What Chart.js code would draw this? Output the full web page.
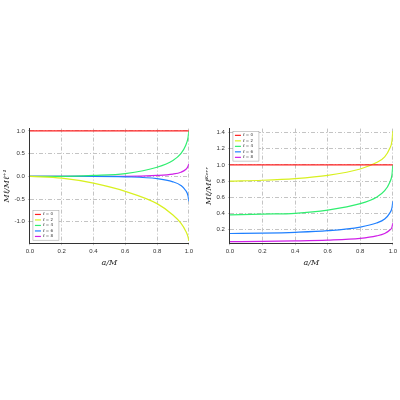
<!DOCTYPE html><html><head><script src="https://cdn.jsdelivr.net/npm/chart.js"></script>
<style>body{margin:0;background:#fff}.c{position:absolute}</style></head><body>
<div class="c" style="left:2px;top:122px;width:194px;height:146px"><canvas id="a"></canvas></div>
<div class="c" style="left:204px;top:122px;width:196px;height:146px"><canvas id="b"></canvas></div>
<script>
const xs=[0,0.2,0.4,0.6,0.8,0.9,0.95,0.98,0.995,1];
const labels=['ℓ = 0','ℓ = 2','ℓ = 4','ℓ = 6','ℓ = 8'];
const colors=['#ff2020','#d8f020','#30ee70','#2080ff','#d020e8'];
const L0=[1,1,1,1,1,1,1,1,1,1];
const L2=[0,-0.04,-0.15,-0.33,-0.6,-0.85,-1.03,-1.2,-1.33,-1.42];
const L4=[0,0,0.02,0.06,0.2,0.35,0.5,0.68,0.85,1.0];
const L6=[0,0,0,-0.01,-0.05,-0.12,-0.2,-0.31,-0.43,-0.55];
const L8=[0,0,0,0,0.02,0.05,0.09,0.15,0.22,0.28];
const R0=[1,1,1,1,1,1,1,1,1,1];
const R2=[0.8,0.81,0.83,0.87,0.95,1.03,1.1,1.2,1.3,1.42];
const R4=[0.38,0.39,0.40,0.44,0.52,0.6,0.68,0.78,0.88,1.0];
const R6=[0.15,0.155,0.165,0.185,0.23,0.28,0.33,0.4,0.47,0.55];
const R8=[0.05,0.052,0.058,0.068,0.09,0.12,0.15,0.19,0.23,0.28];
const leg={id:'leg',afterDraw(c,a,o){const x=c.ctx,ar=c.chartArea;x.save();const h=5.5,w=26;let x0=ar.left+3,y0=o.pos==='bottom'?ar.bottom-3-h*5-2:ar.top+3;
x.fillStyle='#fff';x.strokeStyle='#999';x.lineWidth=0.5;x.fillRect(x0,y0,w,h*5+2);x.strokeRect(x0,y0,w,h*5+2);
x.font='4px DejaVu Sans';x.textBaseline='middle';
labels.forEach((l,i)=>{const y=y0+1+h*i+h/2;x.strokeStyle=colors[i];x.lineWidth=1.2;x.beginPath();x.moveTo(x0+2,y);x.lineTo(x0+8,y);x.stroke();x.fillStyle='#333';x.fillText(l,x0+10,y);});x.restore();}};
function mk(id,sets,ymin,ymax,step,ytitle,pos){
new Chart(document.getElementById(id),{type:'line',plugins:[leg],
data:{datasets:sets.map((s,i)=>({label:labels[i],data:xs.map((x,j)=>({x,y:s[j]})),borderColor:colors[i],borderWidth:1.2,pointRadius:0,cubicInterpolationMode:'monotone',fill:false}))},
options:{animation:false,responsive:true,maintainAspectRatio:false,layout:{padding:{right:4}},
plugins:{legend:{display:false},tooltip:{enabled:false},leg:{pos}},
scales:{x:{type:'linear',min:0,max:1,ticks:{stepSize:0.2,font:{size:6},color:'#333',callback:v=>v.toFixed(1)},
grid:{color:'#c4c4c4',tickLength:2},border:{color:'#333',dash:[4,2,1,2]},
title:{display:true,text:'a/M',font:{size:8,style:'italic',family:'DejaVu Serif'},padding:0,color:'#222'}},
y:{min:ymin,max:ymax,afterBuildTicks:ax=>{ax.ticks=step.map(v=>({value:v}));},ticks:{font:{size:6},color:'#333',callback:v=>v.toFixed(1)},
grid:{color:'#c4c4c4',tickLength:2},border:{color:'#333',dash:[4,2,1,2]},
title:{display:true,text:ytitle,font:{size:8,style:'italic',family:'DejaVu Serif'},padding:0,color:'#222'}}}}});}
mk('a',[L0,L2,L4,L6,L8],-1.47,1.05,[-1,-0.5,0,0.5,1],'Mℓ/Mℓ⁺¹','bottom');
mk('b',[R0,R2,R4,R6,R8],0.03,1.45,[0.2,0.4,0.6,0.8,1,1.2,1.4],'Mℓ/Mℓᴷᵉʳʳ','top');
</script></body></html>
